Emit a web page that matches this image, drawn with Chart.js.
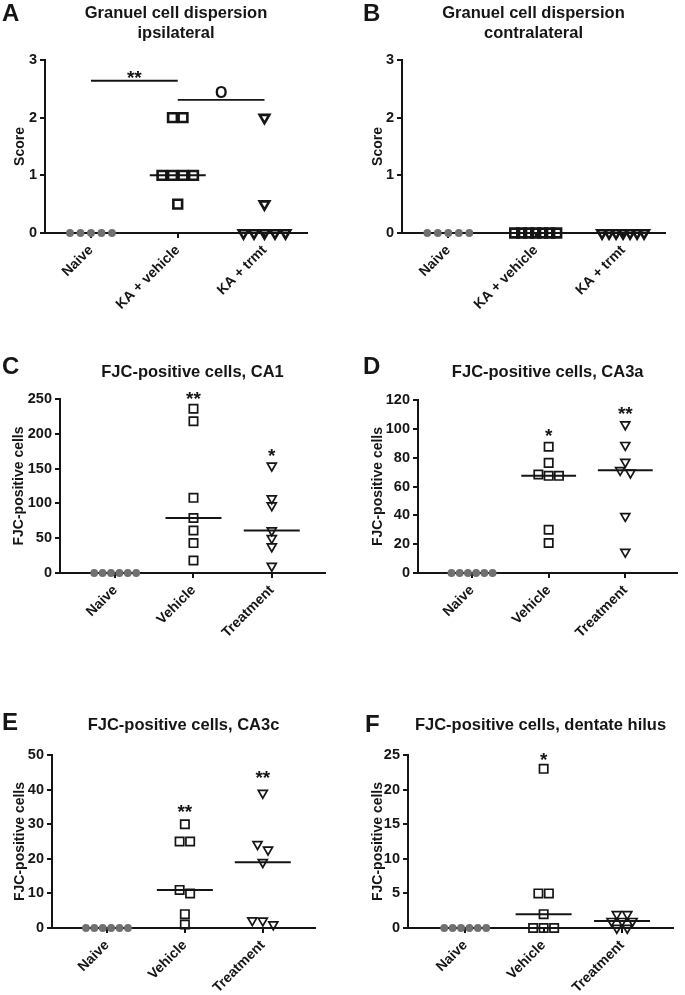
<!DOCTYPE html>
<html lang="en">
<head>
	<meta charset="UTF-8">
	<title>Granule cell dispersion and FJC-positive cells</title>
	<script src="https://cdn.jsdelivr.net/npm/chart.js"></script>
	<style>
		body { margin: 0; background: #fff; }
		#wrap { position: relative; width: 685px; height: 995px; }
		.panel { position: absolute; }
	</style>
</head>
<body>
	<div id="wrap">
		<div class="panel" id="boxA"><canvas id="chartA"></canvas></div>
		<div class="panel" id="boxB"><canvas id="chartB"></canvas></div>
		<div class="panel" id="boxC"><canvas id="chartC"></canvas></div>
		<div class="panel" id="boxD"><canvas id="chartD"></canvas></div>
		<div class="panel" id="boxE"><canvas id="chartE"></canvas></div>
		<div class="panel" id="boxF"><canvas id="chartF"></canvas></div>
	</div>

	<script type="text/javascript">
		// ---- data ----
		var gcdGroups = ['Naive', 'KA + vehicle', 'KA + trmt'];
		var fjcGroups = ['Naive', 'Vehicle', 'Treatment'];

		// A - granule cell dispersion, ipsilateral (score)
		var ipsiNaive = [0, 0, 0, 0, 0];
		var ipsiVehicle = [2, 2, 1, 1, 1, 1, 0.5];
		var ipsiTrmt = [2, 0.5, 0, 0, 0, 0, 0];
		var ipsiBrackets = [{ from: 0, to: 1, y: 2.64, label: '**', labelY: 2.75 },
							{ from: 1, to: 2, y: 2.31, label: 'O', labelY: 2.42 }];

		// B - granule cell dispersion, contralateral (score)
		var contraNaive = [0, 0, 0, 0, 0];
		var contraVehicle = [0, 0, 0, 0, 0, 0, 0];
		var contraTrmt = [0, 0, 0, 0, 0, 0, 0];

		// C - FJC-positive cells, CA1
		var ca1Naive = [0, 0, 0, 0, 0, 0];
		var ca1Vehicle = [236, 218, 108, 79, 61, 43, 18];
		var ca1Treatment = [154, 107, 97, 61, 50, 38, 10];
		var ca1Stars = [{ group: 1, y: 255, label: '**' }, { group: 2, y: 173, label: '*' }];

		// D - FJC-positive cells, CA3a
		var ca3aNaive = [0, 0, 0, 0, 0, 0];
		var ca3aVehicle = [87.6, 76.4, 68.3, 67.4, 67.4, 30, 20.8];
		var ca3aTreatment = [103, 88.7, 77, 71.3, 69.5, 39.4, 14.6];
		var ca3aStars = [{ group: 1, y: 97, label: '*' }, { group: 2, y: 112.5, label: '**' }];

		// E - FJC-positive cells, CA3c
		var ca3cNaive = [0, 0, 0, 0, 0, 0];
		var ca3cVehicle = [30, 25, 25, 11, 10, 4, 1];
		var ca3cTreatment = [39, 24.2, 22.6, 19, 2.2, 1, 2.1];
		var ca3cStars = [{ group: 1, y: 34.4, label: '**' }, { group: 2, y: 44.2, label: '**' }];

		// F - FJC-positive cells, dentate hilus
		var hilusNaive = [0, 0, 0, 0, 0, 0];
		var hilusVehicle = [23, 5, 5, 2, 0, 0, 0];
		var hilusTreatment = [2, 2, 1, 1, 1, 0, 0];
		var hilusStars = [{ group: 1, y: 24.8, label: '*' }];

		var FONT = 'Arial, "Liberation Sans", Helvetica, sans-serif';
		var INK = '#151515';
		Chart.defaults.font.family = FONT;
		Chart.defaults.color = INK;

		function median(arr) {
			var s = arr.slice().sort(function(a, b) { return a - b; });
			var m = Math.floor(s.length / 2);
			return s.length % 2 ? s[m] : (s[m - 1] + s[m]) / 2;
		}

		// column scatter: values that would overlap on screen are fanned out sideways
		function spreadPoints(values, center, yPerPx, xPerPx) {
			var sorted = values.slice().sort(function(a, b) { return b - a; });
			var pts = [], cluster = [];
			function flush() {
				var n = cluster.length;
				var step = n > 1 ? Math.min(10.5, 42 / (n - 1)) : 0;
				cluster.forEach(function(v, i) {
					pts.push({ x: center + (i - (n - 1) / 2) * step * xPerPx, y: v });
				});
				cluster = [];
			}
			sorted.forEach(function(v) {
				if (cluster.length && (cluster[cluster.length - 1] - v) / yPerPx > 6) flush();
				cluster.push(v);
			});
			flush();
			return pts;
		}

		var panelDecor = {
			id: 'panelDecor',
			afterDraw: function(chart, args, o) {
				var ctx = chart.ctx, xs = chart.scales.x, ys = chart.scales.y, area = chart.chartArea;
				ctx.save();
				ctx.fillStyle = INK;
				ctx.strokeStyle = INK;
				ctx.textBaseline = 'middle';
				// panel letter
				ctx.font = 'bold 24px ' + FONT;
				ctx.textAlign = 'left';
				ctx.fillText(o.letter, o.letterX, o.letterY);
				// title
				ctx.font = 'bold 16.5px ' + FONT;
				ctx.textAlign = 'center';
				o.title.forEach(function(line, i) {
					ctx.fillText(line, (area.left + area.right) / 2, o.titleY + i * 20);
				});
				// significance brackets
				(o.brackets || []).forEach(function(b) {
					var py = ys.getPixelForValue(b.y);
					ctx.lineWidth = 1.8;
					ctx.beginPath();
					ctx.moveTo(xs.getPixelForValue(b.from), py);
					ctx.lineTo(xs.getPixelForValue(b.to), py);
					ctx.stroke();
					var star = b.label.indexOf('*') >= 0;
					ctx.font = (star ? 'bold 19px ' : 'bold 16px ') + FONT;
					ctx.fillText(b.label, xs.getPixelForValue((b.from + b.to) / 2),
						ys.getPixelForValue(b.labelY) + (star ? 4 : 0));
				});
				// stars above columns
				ctx.font = 'bold 19px ' + FONT;
				(o.stars || []).forEach(function(s) {
					ctx.fillText(s.label, xs.getPixelForValue(s.group), ys.getPixelForValue(s.y) + 4);
				});
				ctx.restore();
			}
		};

		function makePanel(id, cfg) {
			var box = cfg.box, plot = cfg.plot;
			var el = document.getElementById('box' + id);
			el.style.left = box.left + 'px';
			el.style.top = box.top + 'px';
			el.style.width = box.width + 'px';
			el.style.height = box.height + 'px';

			var yPerPx = cfg.yMax / (plot.bottom - plot.top);
			var xPerPx = (cfg.xMax - cfg.xMin) / (plot.right - plot.left);
			var lw = cfg.heavy ? 2.6 : 1.7;
			var styles = [
				{ pointStyle: 'circle', radius: 3.9, fill: '#707070', line: '#707070', bw: 0, rot: 0 },
				{ pointStyle: 'rect', radius: cfg.heavy ? 6.2 : 5.9, fill: 'rgba(0,0,0,0)', line: INK, bw: lw, rot: 0 },
				{ pointStyle: 'triangle', radius: cfg.heavy ? 5.6 : 5.2, fill: 'rgba(0,0,0,0)', line: INK, bw: lw, rot: 180 }
			];

			var datasets = [];
			cfg.groups.forEach(function(vals, g) {
				var m = median(vals);
				var half = 28 * xPerPx;
				datasets.push({
					type: 'line',
					data: [{ x: g - half, y: m }, { x: g + half, y: m }],
					borderColor: INK, borderWidth: 2, pointRadius: 0, clip: false, order: 2
				});
			});
			cfg.groups.forEach(function(vals, g) {
				var st = styles[g];
				datasets.push({
					type: 'scatter',
					data: spreadPoints(vals, g, yPerPx, xPerPx),
					pointStyle: st.pointStyle,
					pointRadius: st.radius,
					pointRotation: st.rot,
					backgroundColor: st.fill,
					borderColor: st.line,
					borderWidth: st.bw,
					clip: false,
					order: 1
				});
			});

			var yWidth = plot.left - box.left;
			var xHeight = box.top + box.height - plot.bottom;

			return new Chart(document.getElementById('chart' + id), {
				type: 'scatter',
				data: { datasets: datasets },
				options: {
					responsive: true,
					maintainAspectRatio: false,
					animation: false,
					layout: {
						padding: { left: 0, bottom: 0, top: plot.top - box.top, right: box.left + box.width - plot.right }
					},
					plugins: {
						legend: { display: false },
						tooltip: { enabled: false },
						panelDecor: cfg.decor
					},
					scales: {
						x: {
							type: 'linear',
							min: cfg.xMin,
							max: cfg.xMax,
							afterBuildTicks: function(scale) {
								scale.ticks = [{ value: 0 }, { value: 1 }, { value: 2 }];
							},
							afterFit: function(scale) { scale.height = xHeight; },
							ticks: {
								autoSkip: false,
								minRotation: 45,
								maxRotation: 45,
								padding: 4,
								color: INK,
								font: { size: 14, weight: 'bold' },
								callback: function(v) { return cfg.names[v]; }
							},
							grid: { drawOnChartArea: false, color: INK, lineWidth: 2, tickLength: 5 },
							border: { color: INK, width: 2 }
						},
						y: {
							min: 0,
							max: cfg.yMax,
							afterFit: function(scale) { scale.width = yWidth; },
							ticks: {
								stepSize: cfg.yStep,
								padding: 3,
								color: INK,
								font: { size: 14.5, weight: 'bold' }
							},
							grid: { drawOnChartArea: false, color: INK, lineWidth: 2, tickLength: 5 },
							border: { color: INK, width: 2 },
							title: {
								display: true,
								text: cfg.yTitle,
								color: INK,
								font: { size: 14, weight: 'bold', lineHeight: 1.2 },
								padding: { top: cfg.yTitleX - 8.4, bottom: 0 }
							}
						}
					}
				},
				plugins: [panelDecor]
			});
		}

		makePanel('A', {
			box: { left: 0, top: 0, width: 340, height: 320 },
			plot: { left: 45, top: 60, right: 307, bottom: 233 },
			xMin: -0.53, xMax: 2.49, yMax: 3, yStep: 1, heavy: true,
			names: gcdGroups, groups: [ipsiNaive, ipsiVehicle, ipsiTrmt],
			yTitle: 'Score', yTitleX: 20,
			decor: { letter: 'A', letterX: 2, letterY: 14, title: ['Granuel cell dispersion', 'ipsilateral'], titleY: 13,
					 brackets: ipsiBrackets }
		});

		makePanel('B', {
			box: { left: 340, top: 0, width: 345, height: 320 },
			plot: { left: 402, top: 60, right: 665, bottom: 233 },
			xMin: -0.53, xMax: 2.48, yMax: 3, yStep: 1, heavy: true,
			names: gcdGroups, groups: [contraNaive, contraVehicle, contraTrmt],
			yTitle: 'Score', yTitleX: 38,
			decor: { letter: 'B', letterX: 23, letterY: 14, title: ['Granuel cell dispersion', 'contralateral'], titleY: 13 }
		});

		makePanel('C', {
			box: { left: 0, top: 320, width: 340, height: 340 },
			plot: { left: 60, top: 399, right: 325, bottom: 573 },
			xMin: -0.705, xMax: 2.68, yMax: 250, yStep: 50,
			names: fjcGroups, groups: [ca1Naive, ca1Vehicle, ca1Treatment],
			yTitle: 'FJC-positive cells', yTitleX: 19,
			decor: { letter: 'C', letterX: 2, letterY: 47, title: ['FJC-positive cells, CA1'], titleY: 52, stars: ca1Stars }
		});

		makePanel('D', {
			box: { left: 340, top: 320, width: 345, height: 340 },
			plot: { left: 418, top: 400, right: 683, bottom: 573 },
			xMin: -0.705, xMax: 2.68, yMax: 120, yStep: 20,
			names: fjcGroups, groups: [ca3aNaive, ca3aVehicle, ca3aTreatment],
			yTitle: 'FJC-positive cells', yTitleX: 38,
			decor: { letter: 'D', letterX: 23, letterY: 47, title: ['FJC-positive cells, CA3a'], titleY: 52, stars: ca3aStars }
		});

		makePanel('E', {
			box: { left: 0, top: 660, width: 340, height: 335 },
			plot: { left: 52, top: 755, right: 315, bottom: 928 },
			xMin: -0.705, xMax: 2.67, yMax: 50, yStep: 10,
			names: fjcGroups, groups: [ca3cNaive, ca3cVehicle, ca3cTreatment],
			yTitle: 'FJC-positive cells', yTitleX: 20,
			decor: { letter: 'E', letterX: 2, letterY: 63, title: ['FJC-positive cells, CA3c'], titleY: 65, stars: ca3cStars }
		});

		makePanel('F', {
			box: { left: 340, top: 660, width: 345, height: 335 },
			plot: { left: 408, top: 755, right: 673, bottom: 928 },
			xMin: -0.73, xMax: 2.65, yMax: 25, yStep: 5,
			names: fjcGroups, groups: [hilusNaive, hilusVehicle, hilusTreatment],
			yTitle: 'FJC-positive cells', yTitleX: 38,
			decor: { letter: 'F', letterX: 25, letterY: 65, title: ['FJC-positive cells, dentate hilus'], titleY: 65, stars: hilusStars }
		});
	</script>
</body>
</html>
